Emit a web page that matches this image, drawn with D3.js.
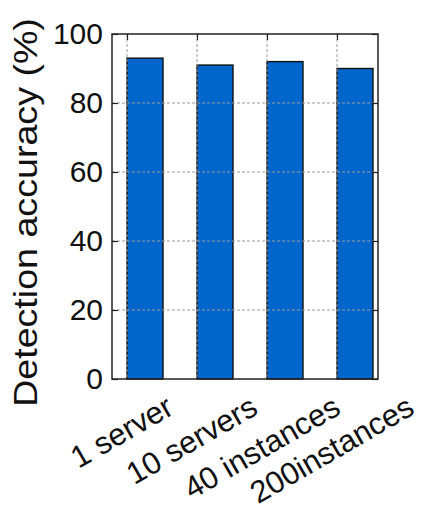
<!DOCTYPE html>
<html>
<head>
<meta charset="utf-8">
<script src="https://cdn.jsdelivr.net/npm/d3@7"></script>
<style>
  html, body { margin: 0; padding: 0; background: #fff; }
  svg { display: block; font-family: "Liberation Sans", Arial, Helvetica, sans-serif; }
</style>
</head>
<body>
<svg id="chart" width="429" height="515"></svg>
<script>
// Detection accuracy per deployment scale
const categories = ["1 server", "10 servers", "40 instances", "200instances"];
const accuracy = [93, 91, 92, 90];
const yTicks = [0, 20, 40, 60, 80, 100];
const yTitle = "Detection accuracy (%)";

const plot = { left: 112, right: 378, top: 34, bottom: 379 };
const barW = 36;
const barFill = "#0066cc";
const gridColor = "#9a9a9a";

const svg = d3.select("#chart");

const x = d3.scalePoint()
  .domain(categories)
  .range([plot.left + 15, plot.right - 41]);

const y = d3.scaleLinear()
  .domain([0, 100])
  .range([plot.bottom, plot.top]);

// bars
svg.append("g").selectAll("rect")
  .data(categories.map((c, i) => ({ c, v: accuracy[i] })))
  .join("rect")
  .attr("x", d => x(d.c))
  .attr("y", d => y(d.v))
  .attr("width", barW)
  .attr("height", d => y(0) - y(d.v))
  .attr("fill", barFill)
  .attr("stroke", "#111")
  .attr("stroke-width", 1.4);

// grid lines over the bars
const grid = svg.append("g")
  .attr("stroke", gridColor)
  .attr("stroke-width", 1)
  .attr("stroke-dasharray", "3,2");
grid.selectAll("line.h")
  .data(yTicks.filter(t => t > 0 && t < 100))
  .join("line")
  .attr("class", "h")
  .attr("x1", plot.left).attr("x2", plot.right)
  .attr("y1", d => y(d)).attr("y2", d => y(d));
grid.selectAll("line.v")
  .data(categories)
  .join("line")
  .attr("class", "v")
  .attr("x1", d => x(d)).attr("x2", d => x(d))
  .attr("y1", plot.top).attr("y2", plot.bottom);

// frame
svg.append("rect")
  .attr("x", plot.left).attr("y", plot.top)
  .attr("width", plot.right - plot.left)
  .attr("height", plot.bottom - plot.top)
  .attr("fill", "none")
  .attr("stroke", "#222")
  .attr("stroke-width", 1.5);

// left axis with inward ticks
const leftAxis = d3.axisLeft(y).tickValues(yTicks).tickSizeInner(-6).tickSizeOuter(0).tickPadding(9);
const gL = svg.append("g").attr("transform", `translate(${plot.left},0)`).call(leftAxis);
gL.select(".domain").remove();
gL.selectAll(".tick line").attr("stroke", "#222").attr("stroke-width", 1.2);
gL.selectAll(".tick text")
  .attr("font-size", 30)
  .attr("fill", "#111")
  .attr("font-family", "'Liberation Sans', Arial, sans-serif");

// right axis ticks (inward, no labels)
const rightAxis = d3.axisRight(y).tickValues(yTicks).tickSizeInner(-6).tickSizeOuter(0).tickFormat("");
const gR = svg.append("g").attr("transform", `translate(${plot.right},0)`).call(rightAxis);
gR.select(".domain").remove();
gR.selectAll(".tick line").attr("stroke", "#222").attr("stroke-width", 1.2);

// top ticks at category positions
const topAxis = d3.axisTop(x).tickSizeInner(-6).tickSizeOuter(0).tickFormat("");
const gT = svg.append("g").attr("transform", `translate(0,${plot.top})`).call(topAxis);
gT.select(".domain").remove();
gT.selectAll(".tick line").attr("stroke", "#222").attr("stroke-width", 1.2);

// rotated category labels, centred under each tick, ends on a common line
const angle = 30;
const endY = 413;
const labels = svg.append("g")
  .attr("font-size", 31)
  .attr("fill", "#111");
labels.selectAll("text")
  .data(categories)
  .join("text")
  .text(d => d)
  .attr("text-anchor", "middle")
  .each(function (d) {
    const w = this.getComputedTextLength();
    const cy = endY + (w / 2) * Math.sin(angle * Math.PI / 180);
    d3.select(this).attr("transform", `translate(${x(d)},${cy}) rotate(${-angle})`);
  });

// y axis title, slightly widened along its run
svg.append("text")
  .attr("transform", `translate(37,${(plot.top + plot.bottom) / 2 + 6}) rotate(-90) scale(1.14,1)`)
  .attr("text-anchor", "middle")
  .attr("font-size", 33)
  .attr("fill", "#111")
  .text(yTitle);
</script>
</body>
</html>
